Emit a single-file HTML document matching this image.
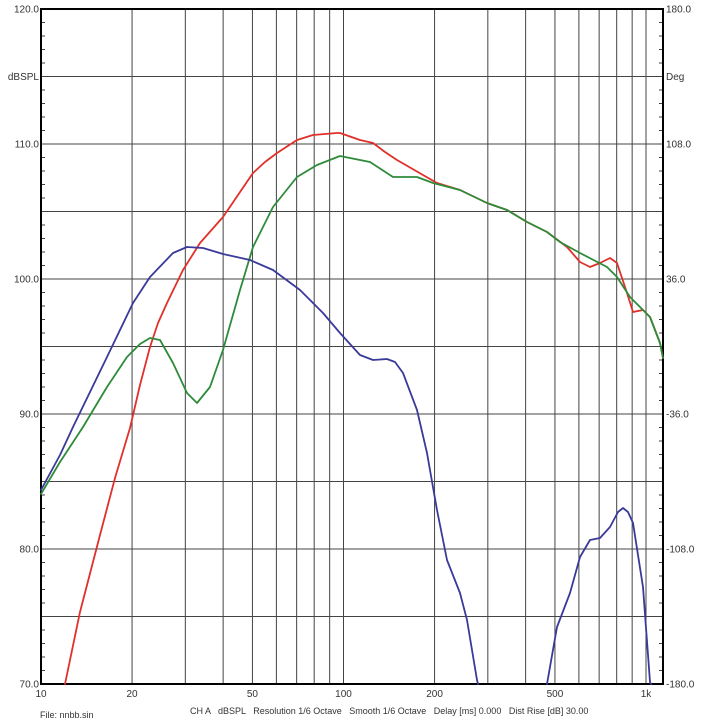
<!DOCTYPE html><html><head><meta charset="utf-8"><style>body{margin:0;background:#fff}svg{display:block;font-family:"Liberation Sans",sans-serif}text{white-space:pre}</style></head><body>
<svg width="705" height="724" viewBox="0 0 705 724">
<g stroke="#444" stroke-width="1" fill="none" id="grid"></g>
<rect x="41" y="9" width="622" height="675" fill="none" stroke="#000" stroke-width="2"/>
<g font-size="10" fill="#333" id="labels"></g>
<g fill="none" stroke-width="1.8" stroke-linejoin="round" stroke-linecap="round">
<polyline stroke="#e0302a" points="65,684 80,612 100,535 115,478 130,428 140,385 150,347 158,323 167,303 183,270 200,243 223,217 238,195 253,173 265,162 277,153 297,140 313,135 337,133 340,133 360,140 373,143 385,152 397,160 423,175 437,183 460,190 487,203 507,210 527,222 547,232 567,247 580,262 590,267 600,263 610,258 617,263 627,293 633,312 643,310 650,317 660,343 663,358"/>
<polyline stroke="#2e8b3a" points="41,494 60,462 83,427 107,387 127,357 140,344 150,338 160,340 173,363 187,393 197,403 210,387 223,350 240,290 253,247 273,207 297,177 317,165 340,156 370,162 393,177 417,177 433,183 460,190 487,203 507,210 527,222 547,232 560,242 580,253 607,267 617,277 630,297 643,310 650,317 660,343 663,358"/>
<polyline stroke="#3a3a9a" points="41,490 60,455 73,427 107,357 133,303 150,277 173,253 187,247 203,248 223,254 250,260 273,270 300,290 323,313 340,333 360,355 373,360 387,359 395,362 403,373 417,410 427,453 437,510 447,560 460,593 467,620 477,680 478,684"/>
<polyline stroke="#3a3a9a" points="547,684 557,627 570,593 580,557 590,540 600,538 610,527 618,512 623,508 628,512 633,523 643,587 650,682 651,684"/>
</g>
<g font-size="9" fill="#333">
<text x="40" y="718">File: nnbb.sin</text>
<text x="190" y="714">CH A   dBSPL   Resolution 1/6 Octave   Smooth 1/6 Octave   Delay [ms] 0.000   Dist Rise [dB] 30.00</text>
</g>
<script>
var g=document.getElementById('grid'),L=document.getElementById('labels'),ns="http://www.w3.org/2000/svg";
function ln(x1,y1,x2,y2,p){var l=document.createElementNS(ns,'line');l.setAttribute('x1',x1);l.setAttribute('y1',y1);l.setAttribute('x2',x2);l.setAttribute('y2',y2);(p||g).appendChild(l);}
function tx(x,y,s,a){var t=document.createElementNS(ns,'text');t.setAttribute('x',x);t.setAttribute('y',y);t.setAttribute('text-anchor',a);t.textContent=s;L.appendChild(t);}
function X(f){return 41+302.5*Math.log10(f/10);}
var fs=[20,30,40,50,60,70,80,90,100,200,300,400,500,600,700,800,900,1000];
fs.forEach(function(f){ln(X(f),9,X(f),684);});
for(var i=1;i<10;i++){var y=9+i*67.5;ln(41,y,663,y);}
for(var d=0;d<=50;d++){var y=9+d*13.5;ln(41,y,45,y);ln(659,y,663,y);}
var lv=["120.0","dBSPL","110.0","","100.0","","90.0","","80.0","","70.0"],rv=["180.0","Deg","108.0","","36.0","","-36.0","","-108.0","","-180.0"];
for(var i=0;i<=10;i++){var y=9+i*67.5+3.5;if(lv[i])tx(39,y,lv[i],'end');if(rv[i])tx(666,y,rv[i],'start');}
[[10,"10"],[20,"20"],[50,"50"],[100,"100"],[200,"200"],[500,"500"],[1000,"1k"]].forEach(function(a){tx(X(a[0]),697,a[1],'middle');});
</script>
</svg></body></html>
